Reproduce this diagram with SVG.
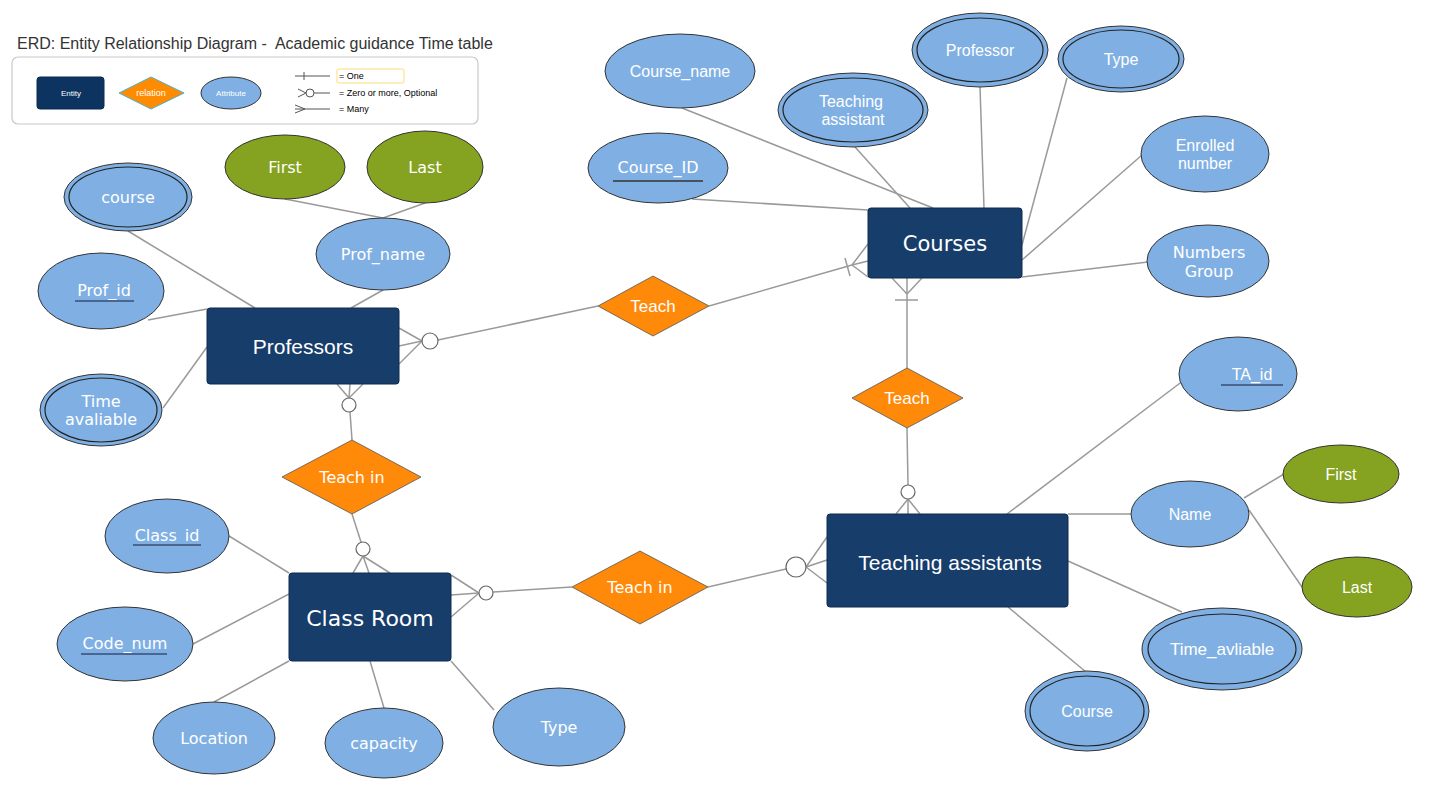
<svg xmlns="http://www.w3.org/2000/svg" width="1438" height="804" viewBox="0 0 1438 804">
<style>
.ent{fill:#173d6b;stroke:#0e2a4d;stroke-width:1}
.rel{fill:#ff8a0a;stroke:#555;stroke-width:0.8}
.att{fill:#80b0e3;stroke:#333;stroke-width:1}
.grn{fill:#85a220;stroke:#333;stroke-width:1}
.inn{fill:none;stroke:#222;stroke-width:1.2}
.ln{stroke:#9a9a9a;stroke-width:1.5;fill:none}
.cir{fill:#fff;stroke:#666;stroke-width:1.2}
.ul{stroke:#4a6590;stroke-width:2}
text{fill:#fff;text-anchor:middle;dominant-baseline:central}
.t{font-family:"DejaVu Sans",Verdana,sans-serif;font-size:16px}
.a{font-family:"Liberation Sans",Arial,sans-serif;font-size:16px}
.e1{font-family:"DejaVu Sans",Verdana,sans-serif;font-size:21px}
.e2{font-family:"Liberation Sans",Arial,sans-serif;font-size:21px}
.lg{font-family:"Liberation Sans",Arial,sans-serif;font-size:8px}
.lgk{font-family:"Liberation Sans",Arial,sans-serif;font-size:9px;fill:#000;text-anchor:start}
</style>

<text x="17" y="43" xml:space="preserve" style="font-family:'Liberation Sans',Arial,sans-serif;font-size:16px;fill:#333;text-anchor:start;white-space:pre">ERD: Entity Relationship Diagram -  Academic guidance Time table</text>

<g id="legend">
  <rect x="12" y="57" width="466" height="67" rx="6" fill="#fff" stroke="#c8c8c8" stroke-width="1.2"/>
  <rect x="37" y="77" width="67" height="32" rx="3" fill="#0d3460" stroke="#0a2a50"/>
  <text x="71" y="93" class="lg">Entity</text>
  <polygon points="119,93 151,77 184,93 151,109" fill="#ff8c00" stroke="#4ab0d0" stroke-width="1"/>
  <text x="151" y="93" class="lg" style="font-size:9px">relation</text>
  <ellipse cx="231" cy="93" rx="30" ry="16" class="att" stroke-width="0.8"/>
  <text x="231" y="93" class="lg">Attribute</text>
  <line x1="295" y1="76" x2="330" y2="76" stroke="#555" stroke-width="1"/>
  <line x1="304" y1="72" x2="304" y2="80" stroke="#555" stroke-width="1"/>
  <rect x="337" y="69" width="67" height="14" rx="2" fill="#fff" stroke="#ffe9a8" stroke-width="1.5"/>
  <text x="339" y="76" class="lgk">= One</text>
  <line x1="314" y1="93" x2="330" y2="93" stroke="#555" stroke-width="1"/>
  <polyline points="298,89 306,93 298,97" stroke="#555" fill="none" stroke-width="1"/>
  <circle cx="310" cy="93" r="4" fill="#fff" stroke="#555" stroke-width="1"/>
  <text x="339" y="93" class="lgk">= Zero or more, Optional</text>
  <line x1="295" y1="109" x2="330" y2="109" stroke="#555" stroke-width="1"/>
  <polyline points="295,105 305,109 295,113" stroke="#555" fill="none" stroke-width="1"/>
  <text x="339" y="109" class="lgk">= Many</text>
</g>

<g id="connectors">
  <!-- Professors attributes -->
  <line class="ln" x1="128" y1="231" x2="255" y2="308"/>
  <line class="ln" x1="148" y1="320" x2="207" y2="309"/>
  <line class="ln" x1="163" y1="408" x2="207" y2="347"/>
  <line class="ln" x1="383" y1="290" x2="351" y2="308"/>
  <line class="ln" x1="285" y1="199" x2="383" y2="218"/>
  <line class="ln" x1="425" y1="203" x2="383" y2="218"/>
  <!-- Professors - Teach -->
  <line class="ln" x1="598" y1="306" x2="438" y2="340"/>
  <line class="ln" x1="422" y1="341" x2="399" y2="328"/>
  <line class="ln" x1="422" y1="341" x2="399" y2="346"/>
  <line class="ln" x1="422" y1="341" x2="399" y2="364"/>
  <!-- Teach - Courses -->
  <line class="ln" x1="709" y1="306" x2="852" y2="265"/>
  <line class="ln" x1="852" y1="265" x2="868" y2="244"/>
  <line class="ln" x1="852" y1="265" x2="868" y2="261"/>
  <line class="ln" x1="852" y1="265" x2="868" y2="277"/>
  <line class="ln" x1="845" y1="258" x2="850" y2="276"/>
  <!-- Courses attributes -->
  <line class="ln" x1="682" y1="108" x2="933" y2="208"/>
  <line class="ln" x1="692" y1="199" x2="868" y2="210"/>
  <line class="ln" x1="855" y1="147" x2="910" y2="208"/>
  <line class="ln" x1="980" y1="87" x2="984" y2="208"/>
  <line class="ln" x1="1067" y1="78" x2="1022" y2="245"/>
  <line class="ln" x1="1142" y1="155" x2="1022" y2="260"/>
  <line class="ln" x1="1148" y1="262" x2="1022" y2="277"/>
  <!-- Courses - Teach (right) -->
  <line class="ln" x1="907" y1="294" x2="907" y2="368"/>
  <line class="ln" x1="907" y1="294" x2="892" y2="278"/>
  <line class="ln" x1="907" y1="294" x2="907" y2="278"/>
  <line class="ln" x1="907" y1="294" x2="922" y2="278"/>
  <line class="ln" x1="895" y1="300" x2="918" y2="300"/>
  <!-- Teach (right) - TA -->
  <line class="ln" x1="907" y1="428" x2="908" y2="485"/>
  <line class="ln" x1="908" y1="499" x2="896" y2="514"/>
  <line class="ln" x1="908" y1="499" x2="908" y2="514"/>
  <line class="ln" x1="908" y1="499" x2="920" y2="514"/>
  <!-- Professors - Teach in -->
  <line class="ln" x1="349" y1="398" x2="337" y2="384"/>
  <line class="ln" x1="349" y1="398" x2="350" y2="384"/>
  <line class="ln" x1="349" y1="398" x2="363" y2="384"/>
  <line class="ln" x1="350" y1="412" x2="352" y2="440"/>
  <!-- Teach in - Class Room -->
  <line class="ln" x1="352" y1="514" x2="361" y2="542"/>
  <line class="ln" x1="363" y1="556" x2="353" y2="573"/>
  <line class="ln" x1="363" y1="556" x2="369" y2="573"/>
  <line class="ln" x1="363" y1="556" x2="390" y2="573"/>
  <!-- Class Room - Teach in -->
  <line class="ln" x1="479" y1="593" x2="451" y2="575"/>
  <line class="ln" x1="479" y1="593" x2="451" y2="595"/>
  <line class="ln" x1="479" y1="593" x2="451" y2="617"/>
  <line class="ln" x1="493" y1="592" x2="572" y2="587"/>
  <!-- Teach in - TA -->
  <line class="ln" x1="708" y1="587" x2="786" y2="569"/>
  <line class="ln" x1="806" y1="567" x2="827" y2="537"/>
  <line class="ln" x1="806" y1="567" x2="827" y2="560"/>
  <line class="ln" x1="806" y1="567" x2="827" y2="583"/>
  <!-- Class Room attributes -->
  <line class="ln" x1="229" y1="536" x2="289" y2="573"/>
  <line class="ln" x1="193" y1="644" x2="289" y2="594"/>
  <line class="ln" x1="214" y1="702" x2="289" y2="661"/>
  <line class="ln" x1="384" y1="708" x2="370" y2="661"/>
  <line class="ln" x1="494" y1="710" x2="451" y2="661"/>
  <!-- TA attributes -->
  <line class="ln" x1="1192" y1="374" x2="1007" y2="514"/>
  <line class="ln" x1="1131" y1="514" x2="1068" y2="514"/>
  <line class="ln" x1="1244" y1="498" x2="1284" y2="474"/>
  <line class="ln" x1="1249" y1="510" x2="1302" y2="587"/>
  <line class="ln" x1="1182" y1="612" x2="1068" y2="561"/>
  <line class="ln" x1="1086" y1="672" x2="1008" y2="607"/>
  <!-- optional circles -->
  <circle class="cir" cx="430" cy="341" r="8"/>
  <circle class="cir" cx="349" cy="405" r="7"/>
  <circle class="cir" cx="363" cy="549" r="7"/>
  <circle class="cir" cx="486" cy="593" r="7"/>
  <circle class="cir" cx="908" cy="492" r="7"/>
  <circle class="cir" cx="796" cy="567" r="10"/>
</g>

<g id="Professors">
  <rect x="207" y="308" width="192" height="76" rx="3" class="ent"/>
  <text x="303" y="346" class="e2">Professors</text>
</g>
<g id="Courses">
  <rect x="868" y="208" width="154" height="70" rx="3" class="ent"/>
  <text x="945" y="244" class="e1">Courses</text>
</g>
<g id="ClassRoom">
  <rect x="289" y="573" width="162" height="88" rx="3" class="ent"/>
  <text x="370" y="618" class="e1" style="font-size:22px">Class Room</text>
</g>
<g id="TeachingAssistants">
  <rect x="827" y="514" width="241" height="93" rx="3" class="ent"/>
  <text x="950" y="562" class="e2">Teaching assistants</text>
</g>

<g id="rel_teach_top">
  <polygon points="598,306 653,276 709,306 653,336" class="rel"/>
  <text x="653" y="306" class="a" style="font-size:17px">Teach</text>
</g>
<g id="rel_teach_right">
  <polygon points="852,398 907,368 963,398 907,428" class="rel"/>
  <text x="907" y="398" class="a" style="font-size:17px">Teach</text>
</g>
<g id="rel_teachin_left">
  <polygon points="282,477 352,440 421,477 352,514" class="rel"/>
  <text x="352" y="477" class="t">Teach in</text>
</g>
<g id="rel_teachin_bottom">
  <polygon points="572,587 640,551 708,587 640,624" class="rel"/>
  <text x="640" y="587" class="t">Teach in</text>
</g>

<g id="attr_course_prof">
  <ellipse cx="128" cy="197" rx="64" ry="34" class="att"/>
  <ellipse cx="128" cy="197" rx="59" ry="30" class="inn"/>
  <text x="128" y="197" class="t">course</text>
</g>
<g id="attr_prof_id">
  <ellipse cx="101" cy="291" rx="63" ry="38" class="att"/>
  <text x="104" y="290" class="t">Prof_id</text>
  <line x1="75" y1="301" x2="134" y2="301" class="ul"/>
</g>
<g id="attr_time_avaliable">
  <ellipse cx="101" cy="410" rx="61" ry="36" class="att"/>
  <ellipse cx="101" cy="410" rx="56" ry="32" class="inn"/>
  <text x="101" y="401" class="t">Time</text>
  <text x="101" y="419" class="t">avaliable</text>
</g>
<g id="attr_prof_name">
  <ellipse cx="383" cy="254" rx="67" ry="36" class="att"/>
  <text x="383" y="254" class="t">Prof_name</text>
</g>
<g id="attr_first_prof">
  <ellipse cx="285" cy="167" rx="60" ry="32" class="grn"/>
  <text x="285" y="167" class="t">First</text>
</g>
<g id="attr_last_prof">
  <ellipse cx="425" cy="167" rx="58" ry="36" class="grn"/>
  <text x="425" y="167" class="t">Last</text>
</g>

<g id="attr_course_name">
  <ellipse cx="680" cy="71" rx="75" ry="37" class="att"/>
  <text x="680" y="71" class="a">Course_name</text>
</g>
<g id="attr_course_id">
  <ellipse cx="658" cy="168" rx="70" ry="35" class="att"/>
  <text x="658" y="167" class="t">Course_ID</text>
  <line x1="613" y1="181" x2="703" y2="181" stroke="#333" stroke-width="1.5"/>
</g>
<g id="attr_teaching_assistant">
  <ellipse cx="853" cy="110" rx="75" ry="37" class="att"/>
  <ellipse cx="853" cy="110" rx="70" ry="32" class="inn"/>
  <text x="851" y="101" class="a">Teaching</text>
  <text x="853" y="119" class="a">assistant</text>
</g>
<g id="attr_professor">
  <ellipse cx="980" cy="50" rx="68" ry="37" class="att"/>
  <ellipse cx="980" cy="50" rx="63" ry="32" class="inn"/>
  <text x="980" y="50" class="a">Professor</text>
</g>
<g id="attr_type_course">
  <ellipse cx="1121" cy="59" rx="63" ry="33" class="att"/>
  <ellipse cx="1121" cy="59" rx="58" ry="29" class="inn"/>
  <text x="1121" y="59" class="a">Type</text>
</g>
<g id="attr_enrolled">
  <ellipse cx="1205" cy="154" rx="64" ry="38" class="att"/>
  <text x="1205" y="145" class="a">Enrolled</text>
  <text x="1205" y="163" class="a">number</text>
</g>
<g id="attr_numbers_group">
  <ellipse cx="1208" cy="261" rx="61" ry="36" class="att"/>
  <text x="1209" y="252" class="t">Numbers</text>
  <text x="1209" y="271" class="t">Group</text>
</g>

<g id="attr_class_id">
  <ellipse cx="167" cy="536" rx="62" ry="37" class="att"/>
  <text x="167" y="535" class="t">Class_id</text>
  <line x1="133" y1="545" x2="201" y2="545" class="ul"/>
</g>
<g id="attr_code_num">
  <ellipse cx="125" cy="644" rx="68" ry="37" class="att"/>
  <text x="125" y="643" class="t">Code_num</text>
  <line x1="81" y1="654" x2="167" y2="654" class="ul"/>
</g>
<g id="attr_location">
  <ellipse cx="214" cy="738" rx="61" ry="36" class="att"/>
  <text x="214" y="738" class="t">Location</text>
</g>
<g id="attr_capacity">
  <ellipse cx="384" cy="743" rx="59" ry="35" class="att"/>
  <text x="384" y="743" class="t">capacity</text>
</g>
<g id="attr_type_class">
  <ellipse cx="559" cy="727" rx="66" ry="39" class="att"/>
  <text x="559" y="727" class="t">Type</text>
</g>

<g id="attr_ta_id">
  <ellipse cx="1238" cy="374" rx="59" ry="37" class="att"/>
  <text x="1252" y="374" class="a">TA_id</text>
  <line x1="1221" y1="385" x2="1283" y2="385" class="ul"/>
</g>
<g id="attr_name">
  <ellipse cx="1190" cy="514" rx="59" ry="33" class="att"/>
  <text x="1190" y="514" class="a">Name</text>
</g>
<g id="attr_first_ta">
  <ellipse cx="1341" cy="474" rx="58" ry="29" class="grn"/>
  <text x="1341" y="474" class="a">First</text>
</g>
<g id="attr_last_ta">
  <ellipse cx="1357" cy="587" rx="55" ry="30" class="grn"/>
  <text x="1357" y="587" class="a">Last</text>
</g>
<g id="attr_time_avliable">
  <ellipse cx="1222" cy="649" rx="80" ry="41" class="att"/>
  <ellipse cx="1222" cy="649" rx="74" ry="35" class="inn"/>
  <text x="1222" y="649" class="a" style="font-size:17px">Time_avliable</text>
</g>
<g id="attr_course_ta">
  <ellipse cx="1087" cy="711" rx="62" ry="40" class="att"/>
  <ellipse cx="1087" cy="711" rx="57" ry="35" class="inn"/>
  <text x="1087" y="711" class="a">Course</text>
</g>
</svg>
